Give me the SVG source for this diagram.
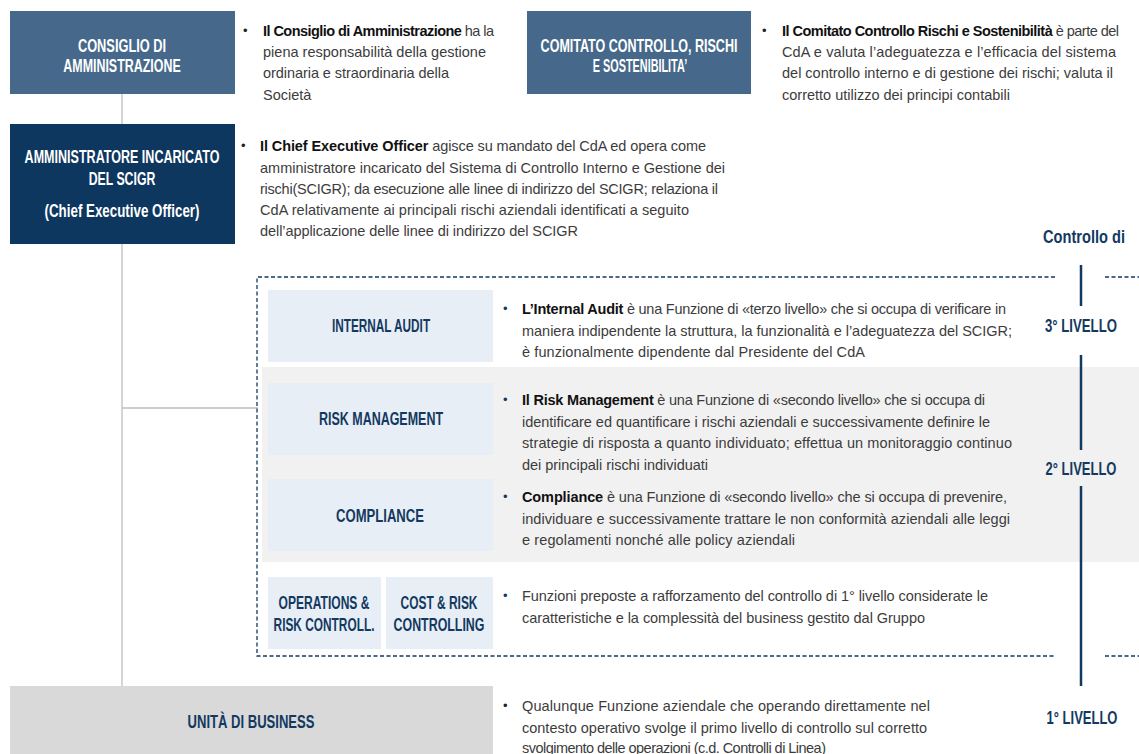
<svg xmlns="http://www.w3.org/2000/svg" width="1139" height="754" viewBox="0 0 1139 754">
<style>
.lbl{font-family:"Liberation Sans",sans-serif;font-weight:bold;font-size:17.5px;text-anchor:middle}
.w{fill:#ffffff}
.n{fill:#13395F}
.d{font-family:"Liberation Sans",sans-serif;font-size:14.5px;fill:#3C3C3C}
.d tspan.b{font-weight:bold;fill:#111111}
.d tspan.bu{font-size:13px;fill:#222222}
.d tspan.bn{font-size:13px;fill:#13395F}
.lv{font-family:"Liberation Sans",sans-serif;font-weight:bold;font-size:18px;fill:#13395F;text-anchor:middle}
.con{stroke:#BFBFBF;stroke-width:1.3;fill:none}
.box{fill:#E8EEF6}
</style>
<rect x="262" y="367" width="877" height="195" fill="#F1F1F1"/>
<g id="connectors">
<path class="con" d="M122,94 V124 M122,244 V686 M122,408 H258"/>
<path d="M1055,277 H257 V656 H1055" fill="none" stroke="#13395F" stroke-width="1.3" stroke-dasharray="4,2.5"/>
<path d="M1105,277 H1139 M1105,656 H1139" fill="none" stroke="#13395F" stroke-width="1.3" stroke-dasharray="4,2.5"/>
<path d="M1081,265 V306 M1081,355 V450 M1081,486 V686" stroke="#13395F" stroke-width="2.5" fill="none"/>
</g>
<g id="cda">
<rect x="10" y="11" width="225" height="83" fill="#46698B"/>
<text class="lbl w" transform="translate(122,52) scale(0.732,1)">CONSIGLIO DI</text>
<text class="lbl w" transform="translate(122,72) scale(0.711,1)">AMMINISTRAZIONE</text>
<text class="d"><tspan class="bu" x="243" y="35">•</tspan><tspan x="263" y="36" textLength="231"><tspan class="b">Il Consiglio di Amministrazione</tspan> ha la</tspan><tspan x="263" y="57" textLength="223">piena responsabilità della gestione</tspan><tspan x="263" y="78" textLength="186">ordinaria e straordinaria della</tspan><tspan x="263" y="100">Società</tspan></text>
</g>
<g id="ccrs">
<rect x="527" y="11" width="224" height="83" fill="#46698B"/>
<text class="lbl w" transform="translate(639,52) scale(0.716,1)">COMITATO CONTROLLO, RISCHI</text>
<text class="lbl w" transform="translate(640,72) scale(0.62,1)">E SOSTENIBILITA’</text>
<text class="d"><tspan class="bu" x="762" y="35">•</tspan><tspan x="782" y="36" textLength="337"><tspan class="b">Il Comitato Controllo Rischi e Sostenibilità</tspan> è parte del</tspan><tspan x="782" y="57" textLength="334">CdA e valuta l’adeguatezza e l’efficacia del sistema</tspan><tspan x="782" y="78" textLength="331">del controllo interno e di gestione dei rischi; valuta il</tspan><tspan x="782" y="100" textLength="228">corretto utilizzo dei principi contabili</tspan></text>
</g>
<g id="ceo">
<rect x="10" y="124" width="225" height="120" fill="#0E375F"/>
<text class="lbl w" transform="translate(122,163) scale(0.717,1)">AMMINISTRATORE INCARICATO</text>
<text class="lbl w" transform="translate(122,185) scale(0.703,1)">DEL SCIGR</text>
<text class="lbl w" transform="translate(122,217) scale(0.763,1)">(Chief Executive Officer)</text>
<text class="d"><tspan class="bu" x="241" y="150">•</tspan><tspan x="260" y="151" textLength="446"><tspan class="b">Il Chief Executive Officer</tspan> agisce su mandato del CdA ed opera come</tspan><tspan x="260" y="173" textLength="465">amministratore incaricato del Sistema di Controllo Interno e Gestione dei</tspan><tspan x="260" y="194" textLength="458">rischi(SCIGR); da esecuzione alle linee di indirizzo del SCIGR; relaziona il</tspan><tspan x="260" y="215" textLength="429">CdA relativamente ai principali rischi aziendali identificati a seguito</tspan><tspan x="260" y="236" textLength="318">dell’applicazione delle linee di indirizzo del SCIGR</tspan></text>
</g>
<g id="controllo-di">
<text class="lv" transform="translate(1084,243) scale(0.812,1)">Controllo di</text>
</g>
<g id="internal-audit">
<rect class="box" x="268" y="290" width="225" height="72"/>
<text class="lbl n" transform="translate(381,332) scale(0.674,1)">INTERNAL AUDIT</text>
<text class="d"><tspan class="bn" x="503" y="313">•</tspan><tspan x="522" y="314" textLength="484"><tspan class="b">L’Internal Audit</tspan> è una Funzione di «terzo livello» che si occupa di verificare in</tspan><tspan x="522" y="336" textLength="490">maniera indipendente la struttura, la funzionalità e l’adeguatezza del SCIGR;</tspan><tspan x="522" y="357" textLength="343">è funzionalmente dipendente dal Presidente del CdA</tspan></text>
</g>
<g id="risk-management">
<rect class="box" x="268" y="383" width="225" height="72"/>
<text class="lbl n" transform="translate(381,425) scale(0.713,1)">RISK MANAGEMENT</text>
<text class="d"><tspan class="bn" x="503" y="404">•</tspan><tspan x="522" y="405" textLength="463"><tspan class="b">Il Risk Management</tspan> è una Funzione di «secondo livello» che si occupa di</tspan><tspan x="522" y="427" textLength="468">identificare ed quantificare i rischi aziendali e successivamente definire le</tspan><tspan x="522" y="448" textLength="490">strategie di risposta a quanto individuato; effettua un monitoraggio continuo</tspan><tspan x="522" y="470" textLength="186">dei principali rischi individuati</tspan></text>
</g>
<g id="compliance">
<rect class="box" x="268" y="479" width="225" height="72"/>
<text class="lbl n" transform="translate(380,522) scale(0.748,1)">COMPLIANCE</text>
<text class="d"><tspan class="bn" x="503" y="501">•</tspan><tspan x="522" y="502" textLength="485"><tspan class="b">Compliance</tspan> è una Funzione di «secondo livello» che si occupa di prevenire,</tspan><tspan x="522" y="524" textLength="488">individuare e successivamente trattare le non conformità aziendali alle leggi</tspan><tspan x="522" y="545" textLength="273">e regolamenti nonché alle policy aziendali</tspan></text>
</g>
<g id="operations">
<rect class="box" x="268" y="577" width="113" height="72"/>
<text class="lbl n" transform="translate(324,609) scale(0.69,1)">OPERATIONS &amp;</text>
<text class="lbl n" transform="translate(324,631) scale(0.679,1)">RISK CONTROLL.</text>
</g>
<g id="cost-risk">
<rect class="box" x="386" y="577" width="107" height="72"/>
<text class="lbl n" transform="translate(439,609) scale(0.683,1)">COST &amp; RISK</text>
<text class="lbl n" transform="translate(439,631) scale(0.709,1)">CONTROLLING</text>
<text class="d"><tspan class="bn" x="503" y="600">•</tspan><tspan x="522" y="601" textLength="466">Funzioni preposte a rafforzamento del controllo di 1° livello considerate le</tspan><tspan x="522" y="623" textLength="403">caratteristiche e la complessità del business gestito dal Gruppo</tspan></text>
</g>
<g id="unita-business">
<rect x="10" y="686" width="483" height="68" fill="#D9D9D9"/>
<text class="lbl n" transform="translate(251,728) scale(0.746,1)">UNITÀ DI BUSINESS</text>
<text class="d"><tspan class="bu" x="503" y="710">•</tspan><tspan x="522" y="711" textLength="408">Qualunque Funzione aziendale che operando direttamente nel</tspan><tspan x="522" y="733" textLength="405">contesto operativo svolge il primo livello di controllo sul corretto</tspan><tspan x="522" y="753" textLength="304">svolgimento delle operazioni (c.d. Controlli di Linea)</tspan></text>
</g>
<g id="livelli">
<text class="lv" transform="translate(1081,332) scale(0.733,1)">3° LIVELLO</text>
<text class="lv" transform="translate(1081,475) scale(0.723,1)">2° LIVELLO</text>
<text class="lv" transform="translate(1082,724) scale(0.723,1)">1° LIVELLO</text>
</g>
</svg>
